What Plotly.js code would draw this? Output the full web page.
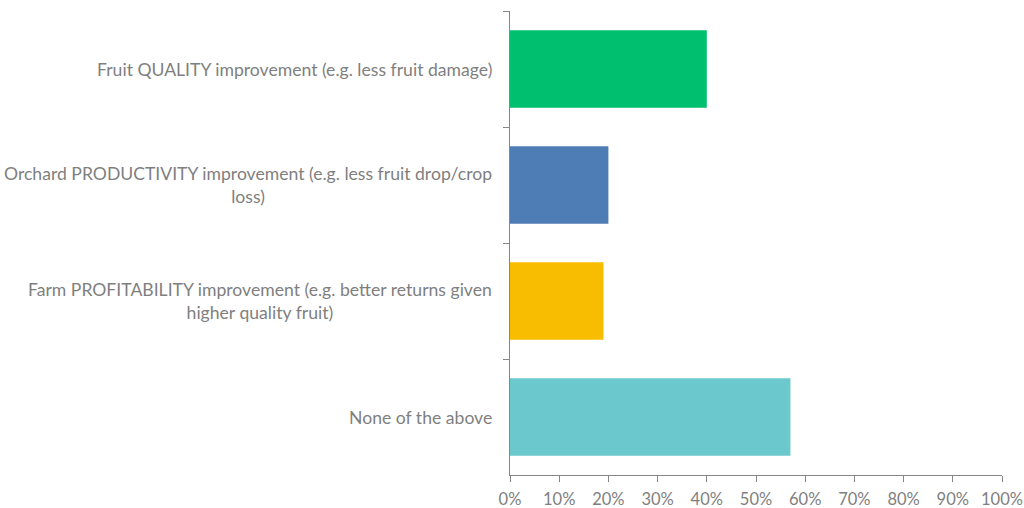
<!DOCTYPE html>
<html><head><meta charset="utf-8">
<script src="https://cdn.plot.ly/plotly-3.0.1.min.js"></script>
<style>html,body{margin:0;padding:0;background:#fff}#chart{width:1024px;height:508px}</style>
</head><body><div id="chart"></div>
<script>
const categories = [
  "Fruit QUALITY improvement (e.g. less fruit damage)",
  "Orchard PRODUCTIVITY improvement (e.g. less fruit drop/crop<br>loss)",
  "Farm PROFITABILITY improvement (e.g. better returns given<br>higher quality fruit)",
  "None of the above"
];
const values = [0.40, 0.20, 0.19, 0.57];
const colors = ["#00BF6F", "#4E7CB5", "#F8BD00", "#6BC8CC"];
const xTickVals = [0,0.1,0.2,0.3,0.4,0.5,0.6,0.7,0.8,0.9,1.0];
const xTickText = ["0%","10%","20%","30%","40%","50%","60%","70%","80%","90%","100%"];

const ids = categories.map((c,i)=>"c"+i);
const font = "Lato, 'Open Sans', sans-serif";
const gray = "#7F7F7F";

const trace = {
  type: "bar", orientation: "h",
  x: values, y: ids,
  marker: {color: colors},
  hoverinfo: "x+y"
};
const annotations = categories.map((c,i)=>({
  xref: "paper", yref: "y", x: 0, y: ids[i],
  xanchor: "right", yanchor: "middle", xshift: -16,
  text: c, showarrow: false, align: "center",
  font: {family: font, size: 17.6, color: gray}
}));
const layout = {
  width: 1024, height: 508,
  margin: {l: 510, r: 22, t: 11, b: 33, pad: 0},
  paper_bgcolor: "#fff", plot_bgcolor: "#fff",
  showlegend: false,
  bargap: 0.33,
  xaxis: {
    range: [0, 1], tickvals: xTickVals, ticktext: xTickText,
    showgrid: false, zeroline: false,
    showline: true, linecolor: "#868686", linewidth: 1,
    ticks: "outside", ticklen: 6, tickcolor: "#868686",
    ticklabelstandoff: 3,
    tickfont: {family: font, size: 16.5, color: gray}
  },
  yaxis: {
    type: "category", categoryorder: "array", categoryarray: ids,
    range: [3.5, -0.5], tickson: "boundaries",
    showticklabels: false, showgrid: false, zeroline: false,
    showline: true, linecolor: "#868686", linewidth: 1.5,
    ticks: "outside", ticklen: 6, tickcolor: "#868686"
  },
  annotations: annotations
};
Plotly.newPlot("chart", [trace], layout, {displayModeBar: false, staticPlot: true});
</script></body></html>
